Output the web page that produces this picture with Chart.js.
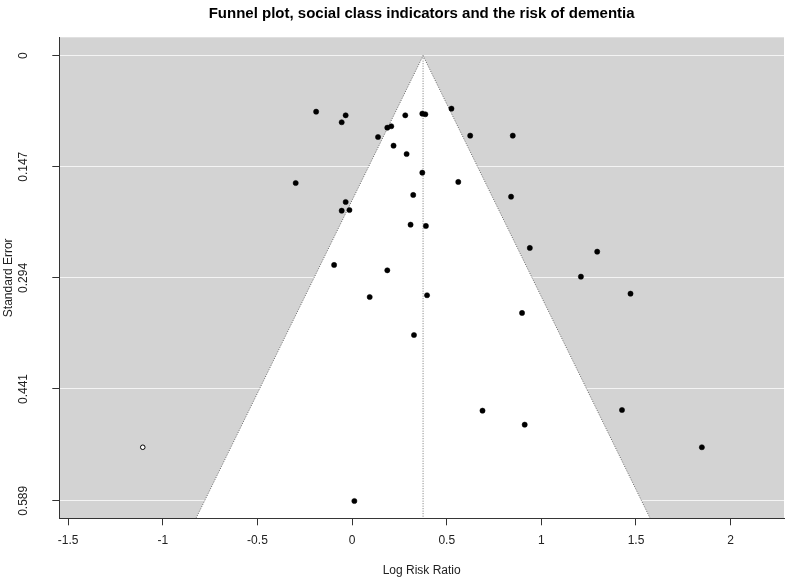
<!DOCTYPE html>
<html><head><meta charset="utf-8">
<script src="https://cdn.jsdelivr.net/npm/chart.js@4.4.1/dist/chart.umd.min.js"></script>
<style>html,body{margin:0;padding:0;background:#fff;}canvas{display:block;}</style>
</head><body>
<canvas id="c" width="789" height="581"></canvas>
<script>
const TITLE = "Funnel plot, social class indicators and the risk of dementia";
const X_LABEL = "Log Risk Ratio";
const Y_LABEL = "Standard Error";
const X_TICKS = [-1.5, -1, -0.5, 0, 0.5, 1, 1.5, 2];
const X_TICK_LABELS = ["-1.5", "-1", "-0.5", "0", "0.5", "1", "1.5", "2"];
const Y_TICKS = [0, 0.147, 0.294, 0.441, 0.589];
const Y_TICK_LABELS = ["0", "0.147", "0.294", "0.441", "0.589"];
const X_RANGE = [-1.547, 2.282];
const Y_RANGE = [-0.0243, 0.6121];
const POOLED_ESTIMATE = 0.375;
const Z_CRIT = 1.96;

// observed studies
const OBS_LOG_RR = [-0.190, -0.034, -0.055, 0.281, 0.371, 0.387, 0.525, 0.186, 0.207, 0.137,
  0.624, 0.849, 0.219, 0.288, 0.371, 0.561, -0.298, 0.323, 0.840, -0.034,
  -0.055, -0.014, 0.309, 0.390, 0.939, -0.095, 0.186, 1.295, 1.209, 0.093,
  0.396, 0.898, 0.327, 0.689, 0.912, 0.012, 1.471, 1.426, 1.848];
const OBS_SE = [0.0741, 0.0789, 0.0881, 0.0789, 0.0767, 0.0775, 0.0701, 0.0953, 0.0934, 0.1076,
  0.1058, 0.1058, 0.1191, 0.1301, 0.1548, 0.1671, 0.1685, 0.1843, 0.1866, 0.1936,
  0.2051, 0.2042, 0.2236, 0.2253, 0.2544, 0.2769, 0.2840, 0.2593, 0.2924, 0.3193,
  0.3170, 0.3404, 0.3696, 0.4697, 0.4882, 0.5892, 0.3149, 0.4688, 0.5181];
// imputed (trim and fill) study
const FILLED_LOG_RR = [-1.106];
const FILLED_SE = [0.5181];

const FONT = "'Liberation Sans', Arial, sans-serif";

const bgPlugin = {
  id: 'bg',
  beforeDraw(chart) {
    const {ctx, chartArea: a} = chart;
    ctx.save();
    ctx.fillStyle = '#d3d3d3';
    ctx.fillRect(a.left, a.top, a.right - a.left, a.bottom - a.top);
    ctx.restore();
  }
};

const seMax = Y_RANGE[1];
const funnelPts = [
  {x: POOLED_ESTIMATE - Z_CRIT * seMax, y: seMax},
  {x: POOLED_ESTIMATE, y: 0},
  {x: POOLED_ESTIMATE + Z_CRIT * seMax, y: seMax}
];
const centerPts = [{x: POOLED_ESTIMATE, y: 0}, {x: POOLED_ESTIMATE, y: seMax}];

new Chart(document.getElementById('c'), {
  type: 'scatter',
  data: {
    datasets: [
      {label: 'Studies', type: 'scatter',
        data: OBS_LOG_RR.map((v, i) => ({x: v, y: OBS_SE[i]})),
        pointRadius: 2.6, pointBackgroundColor: '#000', pointBorderColor: '#000', pointBorderWidth: 0.5, order: 1},
      {label: 'Filled', type: 'scatter',
        data: FILLED_LOG_RR.map((v, i) => ({x: v, y: FILLED_SE[i]})),
        pointRadius: 2.3, pointBackgroundColor: '#fff', pointBorderColor: '#000', pointBorderWidth: 1, order: 1},
      {label: 'Pooled', type: 'line', data: centerPts, borderColor: '#777', borderWidth: 1,
        borderDash: [1, 1.5], pointRadius: 0, fill: false, order: 2},
      {label: 'Funnel', type: 'line', data: funnelPts, borderColor: '#666', borderWidth: 1,
        borderDash: [1, 1.5], pointRadius: 0, tension: 0, backgroundColor: '#fff',
        fill: {value: seMax}, order: 3}
    ]
  },
  options: {
    responsive: false,
    animation: false,
    events: [],
    layout: {padding: {left: 0, top: 0, right: 3.7, bottom: 0}},
    plugins: {
      legend: {display: false},
      tooltip: {enabled: false},
      title: {display: true, text: TITLE, fullSize: false, color: '#000',
        font: {family: FONT, size: 15, weight: 'bold'}, padding: {top: 4.5, bottom: 14.8}}
    },
    scales: {
      x: {
        type: 'linear', min: X_RANGE[0], max: X_RANGE[1],
        afterBuildTicks: s => { s.ticks = X_TICKS.map(v => ({value: v})); },
        afterFit: s => { s.height = 62.7; },
        ticks: {callback: v => X_TICK_LABELS[X_TICKS.indexOf(v)], color: '#222',
          font: {family: FONT, size: 12}, padding: 8.5, maxRotation: 0, autoSkip: false},
        grid: {drawOnChartArea: false, drawTicks: true, tickLength: 7, tickColor: '#333', tickWidth: 1},
        border: {display: true, color: '#333', width: 1},
        title: {display: true, text: X_LABEL, color: '#222', font: {family: FONT, size: 12},
          padding: {top: 0, bottom: 2.8}}
      },
      y: {
        type: 'linear', reverse: true, min: Y_RANGE[0], max: Y_RANGE[1],
        afterBuildTicks: s => { s.ticks = Y_TICKS.map(v => ({value: v})); },
        afterFit: s => { s.width = 59.3; },
        ticks: {callback: v => Y_TICK_LABELS[Y_TICKS.indexOf(v)], color: '#222',
          font: {family: FONT, size: 12}, padding: 13.3, minRotation: 90, maxRotation: 90,
          crossAlign: 'center', autoSkip: false},
        grid: {drawOnChartArea: true, color: '#f4f4f4', lineWidth: 1, drawTicks: true,
          tickLength: 7, tickColor: '#333', tickWidth: 1},
        border: {display: true, color: '#333', width: 1},
        title: {display: true, text: Y_LABEL, color: '#222', font: {family: FONT, size: 12},
          padding: {top: 1.5, bottom: 0}}
      }
    }
  },
  plugins: [bgPlugin]
});
</script>
</body></html>
